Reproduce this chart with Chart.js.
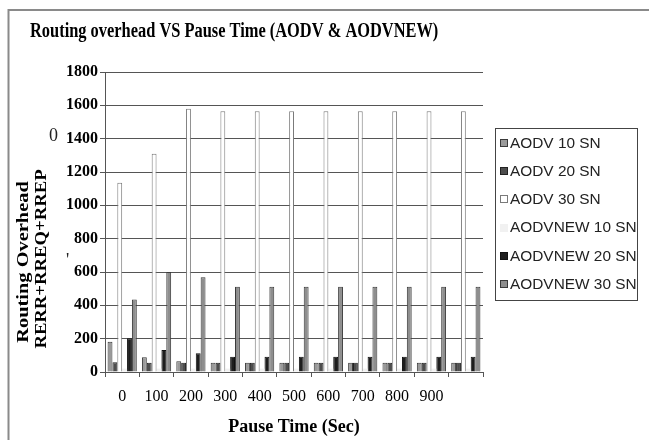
<!DOCTYPE html>
<html>
<head>
<meta charset="utf-8">
<script src="https://cdn.jsdelivr.net/npm/chart.js@4.4.1/dist/chart.umd.min.js"></script>
<style>
    html, body { margin: 0; padding: 0; background: #fff; }
    #chart { display: block; }
</style>
</head>
<body>
<canvas id="chart" width="649" height="440"></canvas>
<script>
// Pause time categories (last group has no label in the original)
const pauseLabels = ['0', '100', '200', '300', '400', '500', '600', '700', '800', '900', ''];

// Routing overhead (RERR+RREQ+RREP) per series
const aodv10    = [182, 88, 65, 55, 55, 55, 55, 55, 55, 55, 55];
const aodv20    = [58, 55, 55, 55, 55, 55, 55, 55, 55, 55, 55];
const aodv30    = [1135, 1310, 1580, 1565, 1565, 1565, 1565, 1565, 1565, 1565, 1565];
const aodvNew10 = [20, 20, 20, 20, 20, 20, 20, 20, 20, 20, 20];
const aodvNew20 = [202, 132, 112, 92, 92, 92, 92, 92, 92, 92, 92];
const aodvNew30 = [435, 600, 568, 512, 512, 512, 512, 512, 512, 512, 512];

const yMax = 1800;
const yStep = 200;

const serif = '"Liberation Serif", "Times New Roman", serif';
const sans = '"Liberation Sans", Arial, sans-serif';

// Draws text squeezed/stretched along its own x direction
function drawStretched(ctx, text, x, y, font, sx, rotate) {
    ctx.save();
    ctx.translate(x, y);
    if (rotate) ctx.rotate(rotate);
    ctx.scale(sx, 1);
    ctx.font = font;
    ctx.fillText(text, 0, 0);
    ctx.restore();
}

const decorations = {
    id: 'decorations',
    afterDraw(chart) {
        const ctx = chart.ctx;
        ctx.save();

        // frame (only top and left edges are visible)
        ctx.strokeStyle = '#8a8a8a';
        ctx.lineWidth = 2;
        ctx.beginPath();
        ctx.moveTo(8.5, chart.height);
        ctx.lineTo(8.5, 10);
        ctx.lineTo(chart.width, 10);
        ctx.stroke();

        ctx.fillStyle = '#000';
        ctx.textBaseline = 'alphabetic';
        ctx.textAlign = 'left';
        drawStretched(ctx, 'Routing overhead VS Pause Time (AODV & AODVNEW)', 30, 37,
            'bold 20px ' + serif, 0.82, 0);

        // y axis title, two lines, rotated
        ctx.textAlign = 'center';
        drawStretched(ctx, 'Routing Overhead', 28, 262, 'bold 17px ' + serif, 1.2, -Math.PI / 2);
        drawStretched(ctx, 'RERR+RREQ+RREP', 46, 259, 'bold 17px ' + serif, 1.1, -Math.PI / 2);

        // stray marks in the original
        ctx.textAlign = 'left';
        ctx.font = '18px ' + serif;
        ctx.fillStyle = '#222';
        ctx.fillText('0', 49, 141);
        ctx.fillText("'", 66, 266);

        // legend
        ctx.strokeStyle = '#444';
        ctx.lineWidth = 1;
        ctx.strokeRect(495.5, 128.5, 142, 172);
        ctx.textBaseline = 'middle';
        chart.data.datasets.forEach((ds, i) => {
            const cy = 143 + i * 28.2;
            const sy = Math.round(cy - 4);
            ctx.fillStyle = ds.backgroundColor;
            ctx.fillRect(500, sy, 8, 8);
            if (ds.borderWidth) {
                ctx.strokeStyle = ds.borderColor;
                ctx.strokeRect(500.5, sy + 0.5, 7, 7);
            }
            ctx.fillStyle = '#222';
            drawStretched(ctx, ds.label, 510, cy + 1, '14px ' + sans, 1.1, 0);
        });
        ctx.restore();
    }
};

const makeSet = (label, data, bg, border, bw) => ({
    label: label,
    data: data,
    backgroundColor: bg,
    borderColor: border,
    borderWidth: bw,
    categoryPercentage: 0.85,
    barPercentage: 1.0
});

new Chart(document.getElementById('chart'), {
    type: 'bar',
    data: {
        labels: pauseLabels,
        datasets: [
            makeSet('AODV 10 SN', aodv10, '#9a9a9a', '#3a3a3a', 1),
            makeSet('AODV 20 SN', aodv20, '#4d4d4d', '#222222', 1),
            makeSet('AODV 30 SN', aodv30, '#ffffff', '#7a7a7a', 1),
            makeSet('AODVNEW 10 SN', aodvNew10, '#f1f1f1', '#f1f1f1', 0),
            makeSet('AODVNEW 20 SN', aodvNew20, '#1e1e1e', '#111111', 1),
            makeSet('AODVNEW 30 SN', aodvNew30, '#8e8e8e', '#3a3a3a', 1)
        ]
    },
    options: {
        responsive: false,
        animation: false,
        devicePixelRatio: 1,
        layout: { padding: { top: 72, left: 45, right: 166, bottom: 0 } },
        plugins: {
            title: { display: false },
            tooltip: { enabled: false },
            legend: { display: false }
        },
        scales: {
            x: {
                afterFit(scale) { scale.height = 68; },
                grid: { display: true, drawOnChartArea: false, color: '#555', tickLength: 5, offset: true },
                border: { color: '#555', width: 1 },
                ticks: { color: '#000', padding: 10, font: { family: serif, size: 16 } },
                title: {
                    display: true,
                    text: 'Pause Time (Sec)',
                    color: '#000',
                    font: { family: serif, size: 18, weight: 'bold' },
                    padding: { top: 2, bottom: 2 }
                }
            },
            y: {
                min: 0,
                max: yMax,
                afterFit(scale) { scale.width = 60; },
                grid: { display: true, drawOnChartArea: true, color: '#555', lineWidth: 1, tickLength: 5 },
                border: { color: '#555', width: 1 },
                ticks: {
                    stepSize: yStep,
                    color: '#000',
                    padding: 2,
                    font: { family: serif, size: 16, weight: 'bold' },
                    callback: (v) => String(v)
                }
            }
        }
    },
    plugins: [decorations]
});
</script>
</body>
</html>
